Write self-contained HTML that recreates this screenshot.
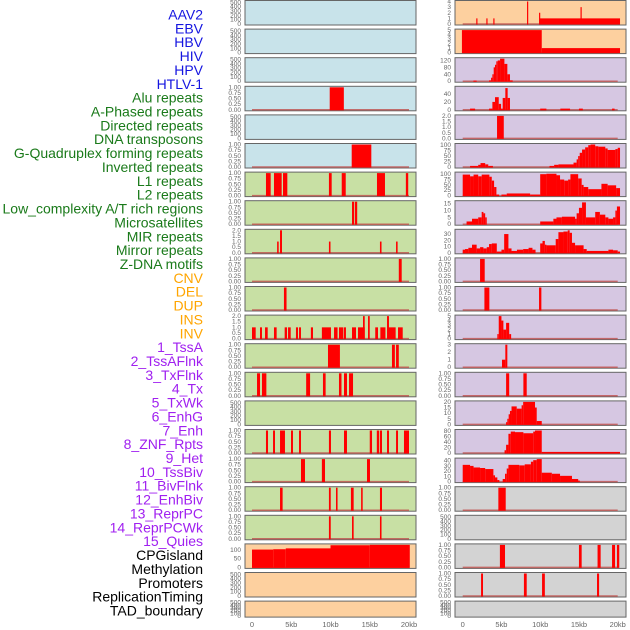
<!DOCTYPE html>
<html><head><meta charset="utf-8"><style>
html,body{margin:0;padding:0;background:#fff;}
svg{display:block;font-family:"Liberation Sans",sans-serif;}
</style></head><body>
<svg id="chart" width="630" height="630" viewBox="0 0 630 630"></svg>
<script>
// ---- labels ----
const labelTexts = ["AAV2","EBV","HBV","HIV","HPV","HTLV-1","Alu repeats","A-Phased repeats","Directed repeats","DNA transposons","G-Quadruplex forming repeats","Inverted repeats","L1 repeats","L2 repeats","Low_complexity A/T rich regions","Microsatellites","MIR repeats","Mirror repeats","Z-DNA motifs","CNV","DEL","DUP","INS","INV","1_TssA","2_TssAFlnk","3_TxFlnk","4_Tx","5_TxWk","6_EnhG","7_Enh","8_ZNF_Rpts","9_Het","10_TssBiv","11_BivFlnk","12_EnhBiv","13_ReprPC","14_ReprPCWk","15_Quies","CPGisland","Methylation","Promoters","ReplicationTiming","TAD_boundary"];
const labelGroups = [6,13,5,15,5];
const labelColors = ["#1515e0","#1a7a1a","#ffa500","#a020f0","#000000"];
const xTickLabels = ["0","5kb","10kb","15kb","20kb"];
const xTickValues = [0,5,10,15,20];

// ---- tick sets ----
const T500 = ["0","100","200","300","400","500"];
const T1 = ["0.00","0.25","0.50","0.75","1.00"];
const T2 = ["0.0","0.5","1.0","1.5","2.0"];

// ---- left column data [startKb, endKb, value] ----
const left0 = [], left1 = [], left2 = [], left4 = [], left14 = [], left20 = [], left21 = [];
const left3 = [[9.9,11.7,1]];
const left5 = [[12.7,15.2,1]];
const left6 = [[1.78,2.38,1],[2.8,3.78,1],[3.95,4.5,1],[9.8,10.15,1],[11.43,11.94,1],[15.92,16.94,1],[19.6,19.9,1]];
const left7 = [[12.74,13.0,1],[13.1,13.4,1]];
const left8 = [[3.2,3.4,1],[3.57,3.82,2],[9.8,10.0,1],[16.3,16.5,1],[18.35,18.55,1]];
const left9 = [[18.7,19.07,1]];
const left10 = [[4.07,4.4,1]];
const left11 = [[0,0.47,1],[1.02,1.27,1],[1.66,2.0,1],[2.8,3.14,1],[4.16,4.46,1],[4.59,4.93,1],[5.6,5.86,1],[5.99,6.24,1],[7.5,7.77,1],[8.9,10.06,1],[10.45,10.9,1],[11.08,11.6,1],[11.68,11.97,1],[12.74,13.25,1],[13.5,14.36,1],[14.14,14.36,2],[14.78,15.0,2],[15.7,16.05,1],[16.35,17.0,1],[17.36,18.3,1],[17.2,17.45,2],[18.6,19.2,1]];
const left12 = [[9.68,11.2,1],[17.83,18.2,1],[18.35,18.7,1]];
const left13 = [[0.64,1.02,1],[1.27,1.83,1],[6.9,7.4,1],[9.04,9.38,1],[11.08,11.4,1],[11.72,12.1,1],[12.36,12.87,1]];
const left15 = [[1.78,2.04,1],[2.68,2.93,1],[3.57,4.2,1],[4.97,5.22,1],[5.99,6.24,1],[9.8,10.06,1],[11.72,12.1,1],[15.0,15.29,1],[15.9,16.2,1],[16.3,16.56,1],[17.2,17.45,1],[18.35,18.6,1],[19.36,20.0,1]];
const left16 = [[6.24,6.75,1],[8.9,9.3,1],[14.65,15.03,1]];
const left17 = [[3.57,3.9,1],[9.8,10.03,1],[10.7,10.9,1],[12.6,12.95,1],[13.9,14.1,1],[16.3,16.56,1]];
const left18 = [[9.8,10.03,1],[12.74,12.95,1],[16.3,16.5,1]];
const left19 = [[0,2.7,103],[2.7,4.3,105],[4.3,10,110],[10,15,128],[15,20.1,130]];

// ---- right column data ----
const right18 = [], right21 = [];
const right0 = [[1.75,1.9,1],[3.05,3.2,1],[3.95,4.1,1],[8.3,8.45,4],[9.85,10.0,2],[9.9,20.3,1],[15.2,15.35,3]];
const right1 = [[-0.1,10.2,5],[10.2,20.3,1]];
const right2 = [[1.38,1.8,4],[3.4,3.66,5],[3.66,3.83,20],[3.83,4.0,40],[4.0,4.17,80],[4.17,4.34,95],[4.34,4.52,115],[4.52,4.82,120],[4.82,5.38,130],[5.38,5.76,100],[5.76,6.1,40],[6.1,6.45,5]];
const right3 = [[0.95,1.6,3],[3.4,3.83,3],[3.83,4.17,20],[4.17,4.65,32],[4.65,4.95,15],[4.95,5.16,3],[5.16,5.5,30],[5.5,5.8,55],[5.8,6.1,30],[10,10.8,3],[12.6,13.85,3],[15,15.5,3],[19.27,19.6,3]];
const right4 = [[4.43,5.3,2]];
const right5 = [[0.95,2.0,5],[2.0,2.3,10],[2.3,2.9,18],[2.9,3.3,12],[3.3,3.9,5],[11.2,11.8,5],[11.8,12.35,10],[12.35,14.3,12],[14.3,14.7,20],[14.7,14.9,35],[14.9,15.1,50],[15.1,15.4,65],[15.4,15.8,80],[15.8,16.2,90],[16.2,16.5,100],[16.5,17.1,103],[17.1,17.5,95],[17.5,18.4,93],[18.4,18.7,85],[18.7,19.7,78],[19.7,20.0,82],[20.0,20.3,88]];
const right6 = [[0,0.95,98],[0.95,1.4,90],[1.4,2.0,98],[2.0,2.45,90],[2.45,3.44,98],[3.44,3.75,88],[3.75,4.05,70],[4.05,4.35,40],[4.35,4.7,5],[5.0,5.68,5],[5.68,8.7,10],[8.7,10,5],[10,10.8,100],[10.8,12.1,102],[12.1,12.56,95],[12.56,13.1,75],[13.1,13.6,70],[13.6,13.9,75],[13.9,14.9,100],[14.9,15.35,80],[15.35,15.6,50],[15.6,16.2,40],[16.2,17.9,30],[17.9,18.7,55],[18.7,19.8,48],[19.8,20.3,35]];
const right7 = [[0.5,1.2,2],[1.2,2.0,4],[2.0,2.45,5],[2.45,2.67,9],[2.67,2.9,8],[2.9,3.1,5],[10,11.7,2],[11.7,12.1,4],[12.1,12.8,5],[12.8,14.5,5.5],[14.5,14.7,4],[14.7,15.0,8],[15.0,15.4,12],[15.4,15.9,16],[15.9,17.1,5],[17.1,17.7,9],[17.7,18.4,7],[18.4,18.8,5],[18.8,19.4,4],[19.4,19.7,5],[19.7,19.9,10],[19.9,20.3,13]];
const right8 = [[0,0.3,5],[0.3,0.73,6],[0.73,1.2,8],[1.2,1.8,13],[1.8,2.24,7],[2.24,2.67,9],[2.67,3.1,7],[3.1,3.4,9],[3.4,3.75,14],[3.75,4.4,15],[4.4,5.0,2],[5.0,5.35,5],[5.35,5.9,30],[5.9,6.3,7],[6.3,7.0,3],[7.0,7.8,5],[7.8,8.5,6],[8.5,9.0,8],[9.0,9.4,5],[10,10.3,15],[10.3,10.6,19],[10.6,10.8,13],[10.8,12.0,12],[12.0,12.35,22],[12.35,13.0,33],[13.0,13.55,34],[13.55,13.8,36],[13.8,14.1,32],[14.1,14.5,16],[14.5,15.6,12],[15.6,16.0,6],[16.0,18.8,3],[18.8,19.4,5],[19.4,20.0,4],[20.0,20.3,2]];
const right9 = [[2.24,2.84,1]];
const right10 = [[2.8,3.44,1],[9.85,10.15,1]];
const right11 = [[4.47,4.65,1],[4.65,5.0,5],[5.0,5.25,4],[5.25,5.6,2],[5.6,6.0,3.5],[6.0,6.25,1]];
const right12 = [[5.07,5.5,1],[5.5,5.76,3]];
const right13 = [[5.6,6.0,1],[7.83,8.26,1]];
const right14 = [[5.6,5.76,2],[5.76,5.93,5],[5.93,6.1,9],[6.1,6.3,12],[6.3,6.97,16],[6.97,7.6,14],[7.6,7.8,17],[7.8,9.33,20],[9.33,9.55,15],[9.55,10.2,3]];
const right15 = [[5.4,5.6,10],[5.6,5.9,30],[5.9,6.2,70],[6.2,6.75,78],[6.75,7.83,76],[7.83,9.1,72],[9.1,9.33,78],[9.33,10.2,82],[10.2,20.3,4]];
const right16 = [[0,0.95,32],[0.95,1.4,30],[1.4,2.24,27],[2.24,2.9,26],[2.9,3.96,24],[3.96,4.17,12],[4.17,4.47,8],[4.47,4.73,3],[5.16,5.46,5],[5.46,5.68,15],[5.68,5.9,25],[5.9,7.3,32],[7.3,8.0,31],[8.0,8.8,33],[8.8,9.1,38],[9.1,9.55,41],[9.55,10.2,43],[10.2,11.5,17],[11.5,12.56,15],[12.56,14.1,11],[14.1,14.9,5],[14.9,15.1,2]];
const right17 = [[4.6,5.55,1]];
const right19 = [[4.8,5.46,1],[15.0,15.35,1],[17.4,17.8,1],[19.27,19.66,1],[19.9,20.2,1]];
const right20 = [[2.37,2.62,1],[7.9,8.26,1],[10.24,10.6,1],[17.33,17.6,1]];

const leftData = [left0,left1,left2,left3,left4,left5,left6,left7,left8,left9,left10,left11,left12,left13,left14,left15,left16,left17,left18,left19,left20,left21];
const rightData = [right0,right1,right2,right3,right4,right5,right6,right7,right8,right9,right10,right11,right12,right13,right14,right15,right16,right17,right18,right19,right20,right21];
const leftTicks = [T500,T500,T500,T1,T500,T1,T1,T1,T2,T1,T1,T2,T1,T1,T500,T1,T1,T1,T1,["0","50","100"],T500,T500];
const leftMax = [520,520,520,1,520,1,1,1,2,1,1,2,1,1,520,1,1,1,1,130,520,520];
const rightTicks = [["0","1","2","3","4"],["0","1","2","3","4","5"],["0","40","80","120"],["0","20","40"],T2,["0","25","50","75","100"],["0","25","50","75","100"],["0","5","10","15"],["0","10","20","30"],T1,T1,["0","1","2","3","4","5"],["0","1","2","3"],T1,["0","5","10","15","20"],["0","20","40","60","80"],["0","10","20","30","40"],T1,T500,T1,T1,T500];
const rightMax = [4,5,130,57,2,103,105,16.5,36,1,1,5,3,1,20,82,43,1,520,1,1,520];

const BLUE="#c8e3ea", GREEN="#c8e0a4", PEACH="#fdd09f", PURPLE="#d6c7e2", GRAY="#d3d3d3";
function leftBg(i){return i<6?BLUE:(i<19?GREEN:PEACH);}
function rightBg(i){return i<2?PEACH:(i<17?PURPLE:GRAY);}

const svg = document.getElementById('chart');
const NS = "http://www.w3.org/2000/svg";
function mk(tag, attrs){const e=document.createElementNS(NS,tag);for(const k in attrs)e.setAttribute(k,attrs[k]);svg.appendChild(e);return e;}

const cols = [
  {px:245, pw:171, x0:252, x1:409, data:leftData, ticks:leftTicks, max:leftMax, bg:leftBg, name:'left'},
  {px:455, pw:171, x0:462.7, x1:617.7, data:rightData, ticks:rightTicks, max:rightMax, bg:rightBg, name:'right'}
];
function rowTop(i){return 0.5+i*28.6;}
function rowH(i){return i===21?16:24.5;}

// labels
let li=0;
labelGroups.forEach((n,g)=>{
  for(let k=0;k<n;k++){
    const t=mk('text',{x:203,y:19.5+li*13.86,'text-anchor':'end','font-size':'14',fill:labelColors[g]});
    t.textContent=labelTexts[li];
    
    
    li++;
  }
});

cols.forEach(c=>{
  const xs = kb => c.x0 + (kb/20)*(c.x1-c.x0);
  for(let i=0;i<22;i++){
    const top=rowTop(i), h=rowH(i);
    const yb=top+h-1, yt=top+1;
    const ys = v => yb - (v/c.max[i])*(yb-yt);
    const r=mk('rect',{x:c.px,y:top,width:c.pw,height:h,fill:c.bg(i),stroke:'#666','stroke-width':1});
    
    
    const d=c.data[i];
    if(d.length){
      const bl=mk('line',{x1:xs(0),x2:xs(20),y1:yb,y2:yb,stroke:'#c0504d','stroke-width':1.5,opacity:0.8});
      
      
    }
    d.forEach((s,j)=>{
      const x1=Math.max(c.px+0.5,xs(s[0])), x2=Math.min(c.px+c.pw-0.5,xs(s[1]));
      const y=Math.max(yt,ys(s[2]));
      const b=mk('rect',{x:x1,y:y,width:Math.max(1.2,x2-x1),height:yb-y+0.5,fill:'#ff0000'});
      
      
    });
    c.ticks[i].forEach(lbl=>{
      const v=parseFloat(lbl);
      const t=mk('text',{x:c.px-4,y:ys(v)+2,'text-anchor':'end','font-size':'6.5',fill:'#666'});
      t.textContent=lbl;
      
      
    });
  }
  xTickValues.forEach((v,k)=>{
    const t=mk('text',{x:xs(v),y:627,'text-anchor':'middle','font-size':'7.5',fill:'#666'});
    t.textContent=xTickLabels[k];
    
    
  });
});
</script>
</body></html>
